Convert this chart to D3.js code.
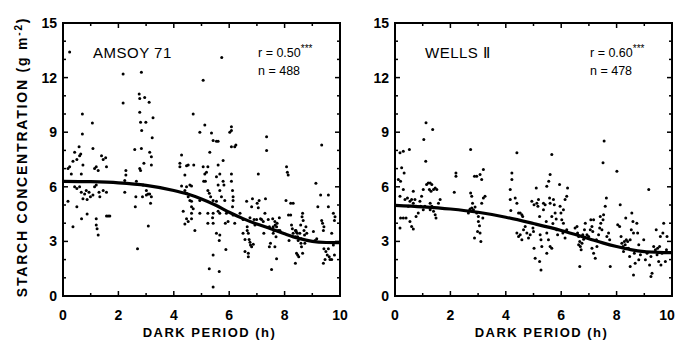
<!DOCTYPE html>
<html>
<head>
<meta charset="utf-8">
<script src="https://cdn.jsdelivr.net/npm/d3@7"></script>
<style>
  body { margin: 0; background: #fff; }
  text { font-family: "Liberation Sans", Arial, sans-serif; fill: #000; }
</style>
</head>
<body>
<div id="chart"></div>
<script>
// values: [dark period h, starch g m-2]
var amsoyPoints = [
  [0.24,13.4],[0.7,10.0],[0.7,8.9],[1.06,9.5],[0.58,8.2],[0.42,7.9],[0.24,7.1],[0.36,7.4],[0.5,7.5],[0.6,7.7],
  [0.64,7.8],[0.3,6.7],[0.18,7.0],[0.72,7.2],[0.66,6.7],[1.14,7.0],[1.08,8.1],[1.2,7.1],[1.27,6.9],[1.39,7.7],
  [1.45,7.5],[1.54,7.6],[1.57,7.1],[0.42,6.0],[0.5,5.9],[0.6,6.0],[0.66,5.7],[0.78,5.6],[0.84,5.8],[0.94,5.7],
  [0.99,5.45],[0.72,5.35],[0.87,5.3],[1.08,5.55],[1.14,6.0],[1.2,6.1],[1.3,5.7],[1.33,5.45],[1.45,5.8],[1.57,5.7],
  [0.18,5.2],[0.5,4.9],[0.67,4.25],[0.87,4.5],[0.36,3.8],[1.2,4.25],[1.2,3.9],[1.23,3.7],[1.27,3.35],[1.57,4.4],
  [1.63,4.4],[1.69,4.4],
  [2.17,12.2],[2.17,10.6],[2.27,6.9],[2.27,6.65],[2.23,6.35],[2.23,5.7],
  [2.83,12.3],[2.75,11.1],[2.77,10.85],[2.95,10.9],[3.11,10.65],[2.77,10.1],[2.8,9.55],[2.99,9.55],[3.25,9.8],[2.84,9.1],
  [3.22,8.7],[2.59,8.05],[2.83,8.1],[3.13,7.9],[3.19,7.65],[2.77,7.0],[2.8,6.9],[2.92,7.3],[3.19,7.2],[2.65,6.3],
  [2.89,6.1],[3.01,5.8],[3.07,5.6],[2.63,5.45],[2.87,5.45],[3.01,5.55],[3.13,5.6],[3.19,5.45],[3.16,5.1],[2.61,4.9],
  [3.08,3.85],[2.69,2.6],
  [4.28,7.75],[4.22,7.3],[4.22,7.1],[4.4,6.65],[4.46,7.15],[4.52,7.2],[4.28,6.05],[4.46,6.0],[4.58,6.1],[4.64,6.05],
  [4.4,5.8],[4.46,5.65],[4.52,5.45],[4.58,5.25],[4.64,5.2],[4.64,4.9],[4.64,4.55],[4.34,4.65],[4.46,4.25],[4.52,4.1],
  [4.4,3.95],[4.64,4.25],[4.7,4.8],[4.76,3.6],[4.7,10.0],[4.72,7.2],[4.94,9.0],[4.94,5.25],[4.94,4.55],[5.06,11.85],
  [5.06,7.1],
  [5.12,9.4],[5.12,6.7],[5.08,6.3],[5.14,6.3],[5.18,6.8],[5.23,7.1],[5.23,5.8],[5.28,5.65],[5.33,5.45],[5.23,4.0],
  [5.23,4.55],[5.3,7.9],[5.36,8.95],[5.42,8.55],[5.42,5.25],[5.42,4.55],[5.4,4.3],[5.42,4.0],[5.42,2.25],[5.28,1.5],
  [5.42,0.5],[5.54,8.5],[5.6,8.5],[5.6,7.2],[5.54,6.55],[5.66,6.7],[5.6,6.1],[5.66,5.8],[5.54,5.2],[5.6,4.65],
  [5.66,4.55],[5.54,3.45],[5.66,3.35],[5.64,3.05],[5.64,1.35],[5.72,5.45],[5.78,7.45],[5.78,6.3],[5.81,6.1],[5.84,5.25],
  [5.86,4.0],[5.88,2.55],[5.9,4.55],[5.96,4.1],[6.02,9.0],[6.08,9.3],[6.08,9.1],[6.08,8.2],[6.08,6.7],[6.08,6.3],
  [6.12,5.8],[6.14,5.45],[6.14,5.25],[6.2,8.2],[6.12,4.9],[6.14,4.45],[6.2,4.0],[6.24,8.3],[5.73,13.1],
  [6.39,4.55],[6.5,4.2],[6.5,3.45],[6.57,3.1],[6.57,2.45],[6.63,5.2],[6.65,3.8],[6.65,3.6],[6.69,3.45],[6.69,2.35],
  [6.69,2.15],[6.72,3.1],[6.75,2.95],[6.77,2.8],[6.81,2.7],[6.87,2.85],[6.75,4.3],[6.81,4.9],[6.84,5.35],[6.9,4.2],
  [6.93,3.9],[6.99,4.2],[7.01,5.1],[7.05,4.85],[7.05,6.7],[7.08,5.25],[7.13,4.25],[7.17,4.2],[7.23,4.1],[7.25,3.45],
  [7.29,4.55],[7.31,5.35],[7.35,8.75],[7.35,8.0],[7.41,4.2],[7.45,3.8],[7.45,2.7],[7.49,2.9],[7.53,1.45],[7.57,4.25],
  [7.59,3.8],[7.61,3.6],[7.65,4.1],[7.66,3.9],[7.71,3.8],[7.73,4.0],[7.77,3.6],[7.59,3.45],[7.69,3.25],[7.71,2.05],
  [7.81,4.3],[7.83,3.6],[7.65,2.7],
  [8.07,7.1],[8.1,6.8],[8.13,6.65],[8.05,5.25],[8.14,4.45],[8.22,4.45],[8.22,5.1],[8.31,5.1],[8.25,3.9],[8.28,3.7],
  [8.31,3.45],[8.16,3.05],[8.39,3.6],[8.4,3.25],[8.41,3.6],[8.43,3.5],[8.46,3.45],[8.47,3.25],[8.49,3.05],[8.39,1.8],
  [8.43,2.35],[8.47,2.25],[8.51,2.15],[8.55,3.45],[8.58,3.9],[8.59,2.9],[8.6,3.15],[8.63,4.35],[8.65,4.55],[8.67,4.15],
  [8.7,3.6],[8.72,3.35],[8.73,2.9],[8.65,2.35],[8.77,3.8],[8.8,3.45],[8.61,2.7],
  [9.04,3.55],[9.1,3.05],[9.13,6.2],[9.16,3.15],[9.2,4.9],[9.3,5.55],[9.34,8.3],[9.34,4.15],[9.37,4.0],[9.4,3.6],
  [9.42,3.8],[9.42,2.6],[9.4,1.8],[9.46,2.0],[9.49,2.45],[9.54,2.25],[9.58,2.6],[9.61,2.15],[9.64,2.0],[9.58,5.55],
  [9.58,4.9],[9.76,4.55],[9.8,4.15],[9.82,4.35],[9.76,2.8],[9.7,3.45],[9.8,2.25],[9.7,2.0]
];

var wellsPoints = [
  [0.18,7.87],[0.3,7.96],[0.52,8.05],[0.24,7.04],[0.33,6.76],[0.12,6.4],[0.2,6.3],[0.18,5.48],[0.3,5.85],[0.36,5.3],
  [0.45,5.39],[0.2,4.28],[0.3,4.28],[0.4,4.28],[0.18,3.73],[0.54,4.1],[0.6,3.82],[0.66,3.68],[0.48,4.93],[0.54,5.2],
  [0.6,5.3],[0.66,5.1],[0.72,5.3],[0.76,4.93],[0.66,5.75],[0.76,4.37],[0.84,4.56],[0.9,5.2],[0.93,4.93],[0.96,5.48],
  [1.02,5.85],[1.02,4.74],[1.08,4.93],[1.14,6.12],[1.2,6.21],[1.27,6.21],[1.33,6.12],[1.24,5.85],[1.3,5.75],[1.39,5.85],
  [1.45,5.94],[1.51,5.85],[1.11,7.41],[1.04,8.6],[1.12,9.52],[1.36,9.15],[1.27,5.1],[1.33,4.93],[1.39,4.65],[1.45,4.47],
  [1.48,4.28],[1.57,5.1],[1.63,5.3],[1.27,4.74],
  [2.14,5.7],[2.2,6.76],[2.2,6.58],[2.73,8.05],[2.73,5.66],[2.77,5.48],[2.65,4.56],[2.69,4.7],[2.71,4.78],[2.77,4.83],
  [2.83,4.74],[2.89,4.89],[2.8,5.1],[2.95,4.56],[3.01,4.37],[3.01,4.1],[3.05,3.86],[2.98,3.55],[3.07,3.46],[2.87,3.18],
  [3.1,3.0],[2.87,6.58],[2.95,6.58],[3.07,6.67],[3.13,6.4],[3.19,6.95],[3.13,5.1],[3.19,5.39],[3.25,5.48],[3.17,4.28],
  [4.16,5.85],[4.22,6.76],[4.22,6.4],[4.4,7.87],[4.16,5.3],[4.18,4.7],[4.34,5.39],[4.4,5.1],[4.46,4.56],[4.52,4.56],
  [4.58,4.47],[4.61,4.37],[4.4,3.46],[4.46,3.27],[4.52,3.36],[4.58,3.09],[4.64,3.64],[4.7,3.82],[4.76,3.46],[4.82,3.18],
  [4.88,3.36],[4.98,3.73],[5.0,3.55],[4.94,5.2],[5.02,5.02],[5.1,5.94],
  [5.12,5.1],[5.16,4.93],[5.18,5.3],[5.22,4.37],[5.24,3.36],[5.27,3.09],[5.02,2.63],[5.06,2.08],[5.22,1.9],[5.3,2.72],
  [5.36,5.1],[5.36,4.74],[5.42,5.02],[5.46,4.1],[5.48,3.46],[5.54,3.09],[5.48,2.35],[5.27,1.43],[5.58,5.39],[5.6,5.1],
  [5.66,4.37],[5.7,3.99],[5.48,6.03],[5.55,6.3],[5.6,6.67],[5.66,7.78],[5.72,5.3],[5.75,5.02],[5.78,4.56],[5.82,4.23],
  [5.84,3.64],[5.87,3.36],[5.6,2.72],[5.66,2.63],[5.94,6.12],[5.96,4.93],[5.99,4.56],[6.02,4.19],[6.06,3.46],[6.08,4.74],
  [6.14,5.3],[6.2,5.48],[6.23,5.94],[6.08,4.0],[6.2,3.64],[6.14,3.18],
  [6.5,3.73],[6.57,3.82],[6.59,3.46],[6.63,3.27],[6.67,3.0],[6.69,2.72],[6.72,2.54],[6.63,2.81],[6.75,2.9],[6.67,1.62],
  [6.78,3.36],[6.81,3.12],[6.84,3.64],[6.87,4.0],[6.93,3.36],[6.99,3.27],[7.05,3.64],[7.07,4.19],[7.11,3.82],[7.14,3.55],
  [7.17,4.19],[7.11,2.63],[7.17,2.35],[7.23,2.08],[7.27,3.09],[7.29,2.72],[7.35,3.36],[7.39,3.73],[7.41,4.37],[7.43,4.0],
  [7.47,3.64],[7.51,4.19],[7.53,4.47],[7.55,8.51],[7.51,7.32],[7.59,4.93],[7.63,5.39],[7.65,3.27],[7.71,3.46],[7.75,3.09],
  [7.77,1.62],
  [8.01,6.86],[8.04,3.92],[8.11,3.82],[8.13,5.02],[8.16,3.27],[8.19,2.9],[8.23,2.72],[8.25,2.44],[8.28,3.0],[8.31,2.81],
  [8.35,3.09],[8.37,2.63],[8.4,3.0],[8.43,2.63],[8.47,2.17],[8.49,3.09],[8.53,3.64],[8.33,4.28],[8.55,4.56],[8.59,4.1],
  [8.61,3.46],[8.64,2.35],[8.67,1.8],[8.61,1.16],[8.49,1.62],[8.73,4.0],[8.76,3.46],[8.8,2.81],[8.8,1.99],[8.86,2.26],
  [8.98,3.09],[9.04,1.99],[9.1,2.35],[9.16,5.85],[9.19,1.71],[9.24,1.07],[9.28,1.25],[9.24,2.17],[9.34,2.72],[9.4,2.54],
  [9.43,3.64],[9.46,2.26],[9.48,2.63],[9.52,1.9],[9.55,2.72],[9.58,3.27],[9.6,1.71],[9.64,2.35],[9.67,3.46],[9.7,4.0],
  [9.76,1.9],[9.8,2.54],[9.82,3.27]
];

// fitted curves
var amsoyFit = [[0,6.3],[1,6.28],[2,6.22],[3,6.08],[4,5.8],[4.5,5.6],[5,5.33],[5.5,5.0],[6,4.6],[6.5,4.25],
  [7,3.95],[7.5,3.7],[8,3.42],[8.5,3.17],[9,3.0],[9.5,2.94],[10,2.93]];
var wellsFit = [[0,4.98],[1,4.9],[2,4.78],[3,4.6],[4,4.33],[5,3.98],[6,3.6],[7,3.15],[7.5,2.92],[8,2.72],
  [8.5,2.55],[9,2.44],[9.5,2.4],[10,2.38]];

var xTickLabels = [0, 2, 4, 6, 8, 10];
var yTickLabels = [0, 3, 6, 9, 12, 15];

var width = 676, height = 341;
var plotTop = 23, plotBottom = 296;

var svg = d3.select("#chart").append("svg")
  .attr("width", width)
  .attr("height", height);

function panel(left, right, points, fit, name, rText, nText, yTitle) {
  var x = d3.scaleLinear().domain([0, 10]).range([left, right]);
  var y = d3.scaleLinear().domain([0, 15]).range([plotBottom, plotTop]);
  var g = svg.append("g");

  // ticks every unit, inward on all four sides (longer at labelled values)
  var minorX = d3.range(0, 11), minorY = d3.range(0, 16);
  g.selectAll(".tb").data(minorX).enter().append("line")
    .attr("x1", d => x(d)).attr("x2", d => x(d))
    .attr("y1", plotBottom).attr("y2", d => plotBottom - (d % 2 == 0 ? 5 : 3))
    .attr("stroke", "#000").attr("stroke-width", 1.5);
  g.selectAll(".tt").data(minorX).enter().append("line")
    .attr("x1", d => x(d)).attr("x2", d => x(d))
    .attr("y1", plotTop).attr("y2", d => plotTop + (d % 2 == 0 ? 5 : 3))
    .attr("stroke", "#000").attr("stroke-width", 1.5);
  g.selectAll(".tl").data(minorY).enter().append("line")
    .attr("y1", d => y(d)).attr("y2", d => y(d))
    .attr("x1", left).attr("x2", d => left + (d % 3 == 0 ? 5 : 3))
    .attr("stroke", "#000").attr("stroke-width", 1.5);
  g.selectAll(".tr").data(minorY).enter().append("line")
    .attr("y1", d => y(d)).attr("y2", d => y(d))
    .attr("x1", right).attr("x2", d => right - (d % 3 == 0 ? 5 : 3))
    .attr("stroke", "#000").attr("stroke-width", 1.5);

  g.append("rect")
    .attr("x", left).attr("y", plotTop)
    .attr("width", right - left).attr("height", plotBottom - plotTop)
    .attr("fill", "none").attr("stroke", "#000").attr("stroke-width", 2);

  g.selectAll(".xl").data(xTickLabels).enter().append("text")
    .attr("x", d => Math.min(x(d), width - 9)).attr("y", 320)
    .attr("text-anchor", "middle")
    .style("font-size", "14px").style("font-weight", "bold")
    .text(d => d);
  g.selectAll(".yl").data(yTickLabels).enter().append("text")
    .attr("x", left - 6).attr("y", d => y(d) + 5)
    .attr("text-anchor", "end")
    .style("font-size", "14px").style("font-weight", "bold")
    .text(d => d);

  g.append("text")
    .attr("x", (left + right) / 2 + 8).attr("y", 337)
    .attr("text-anchor", "middle")
    .style("font-size", "13px").style("font-weight", "bold").style("letter-spacing", "1.5px")
    .text("DARK PERIOD  (h)");

  g.selectAll("circle").data(points).enter().append("circle")
    .attr("cx", d => x(d[0])).attr("cy", d => y(d[1]))
    .attr("r", 1.5).attr("fill", "#000");

  g.append("path")
    .datum(fit)
    .attr("d", d3.line().x(d => x(d[0])).y(d => y(d[1])).curve(d3.curveMonotoneX))
    .attr("fill", "none").attr("stroke", "#000").attr("stroke-width", 3.2);

  g.append("text")
    .attr("x", left + 30).attr("y", 58)
    .style("font-size", "15px").style("letter-spacing", "0.5px")
    .text(name);

  var r = g.append("text").attr("x", right - 82).attr("y", 57).style("font-size", "12.5px");
  r.append("tspan").text(rText);
  r.append("tspan").attr("dy", -5).style("font-size", "10px").text("***");
  g.append("text")
    .attr("x", right - 82).attr("y", 75)
    .style("font-size", "12.5px")
    .text(nText);

  if (yTitle) {
    var t = g.append("text")
      .attr("transform", "translate(27,157) rotate(-90)")
      .attr("text-anchor", "middle")
      .style("font-size", "14px").style("font-weight", "bold").style("letter-spacing", "1.8px");
    t.append("tspan").text("STARCH CONCENTRATION  (g m");
    t.append("tspan").attr("dy", -5).style("font-size", "10px").text("-2");
    t.append("tspan").attr("dy", 5).text(")");
  }
}

panel(63, 340, amsoyPoints, amsoyFit, "AMSOY 71", "r = 0.50", "n = 488", true);
panel(395, 672, wellsPoints, wellsFit, "WELLS \u2161", "r = 0.60", "n = 478", false);
</script>
</body>
</html>
